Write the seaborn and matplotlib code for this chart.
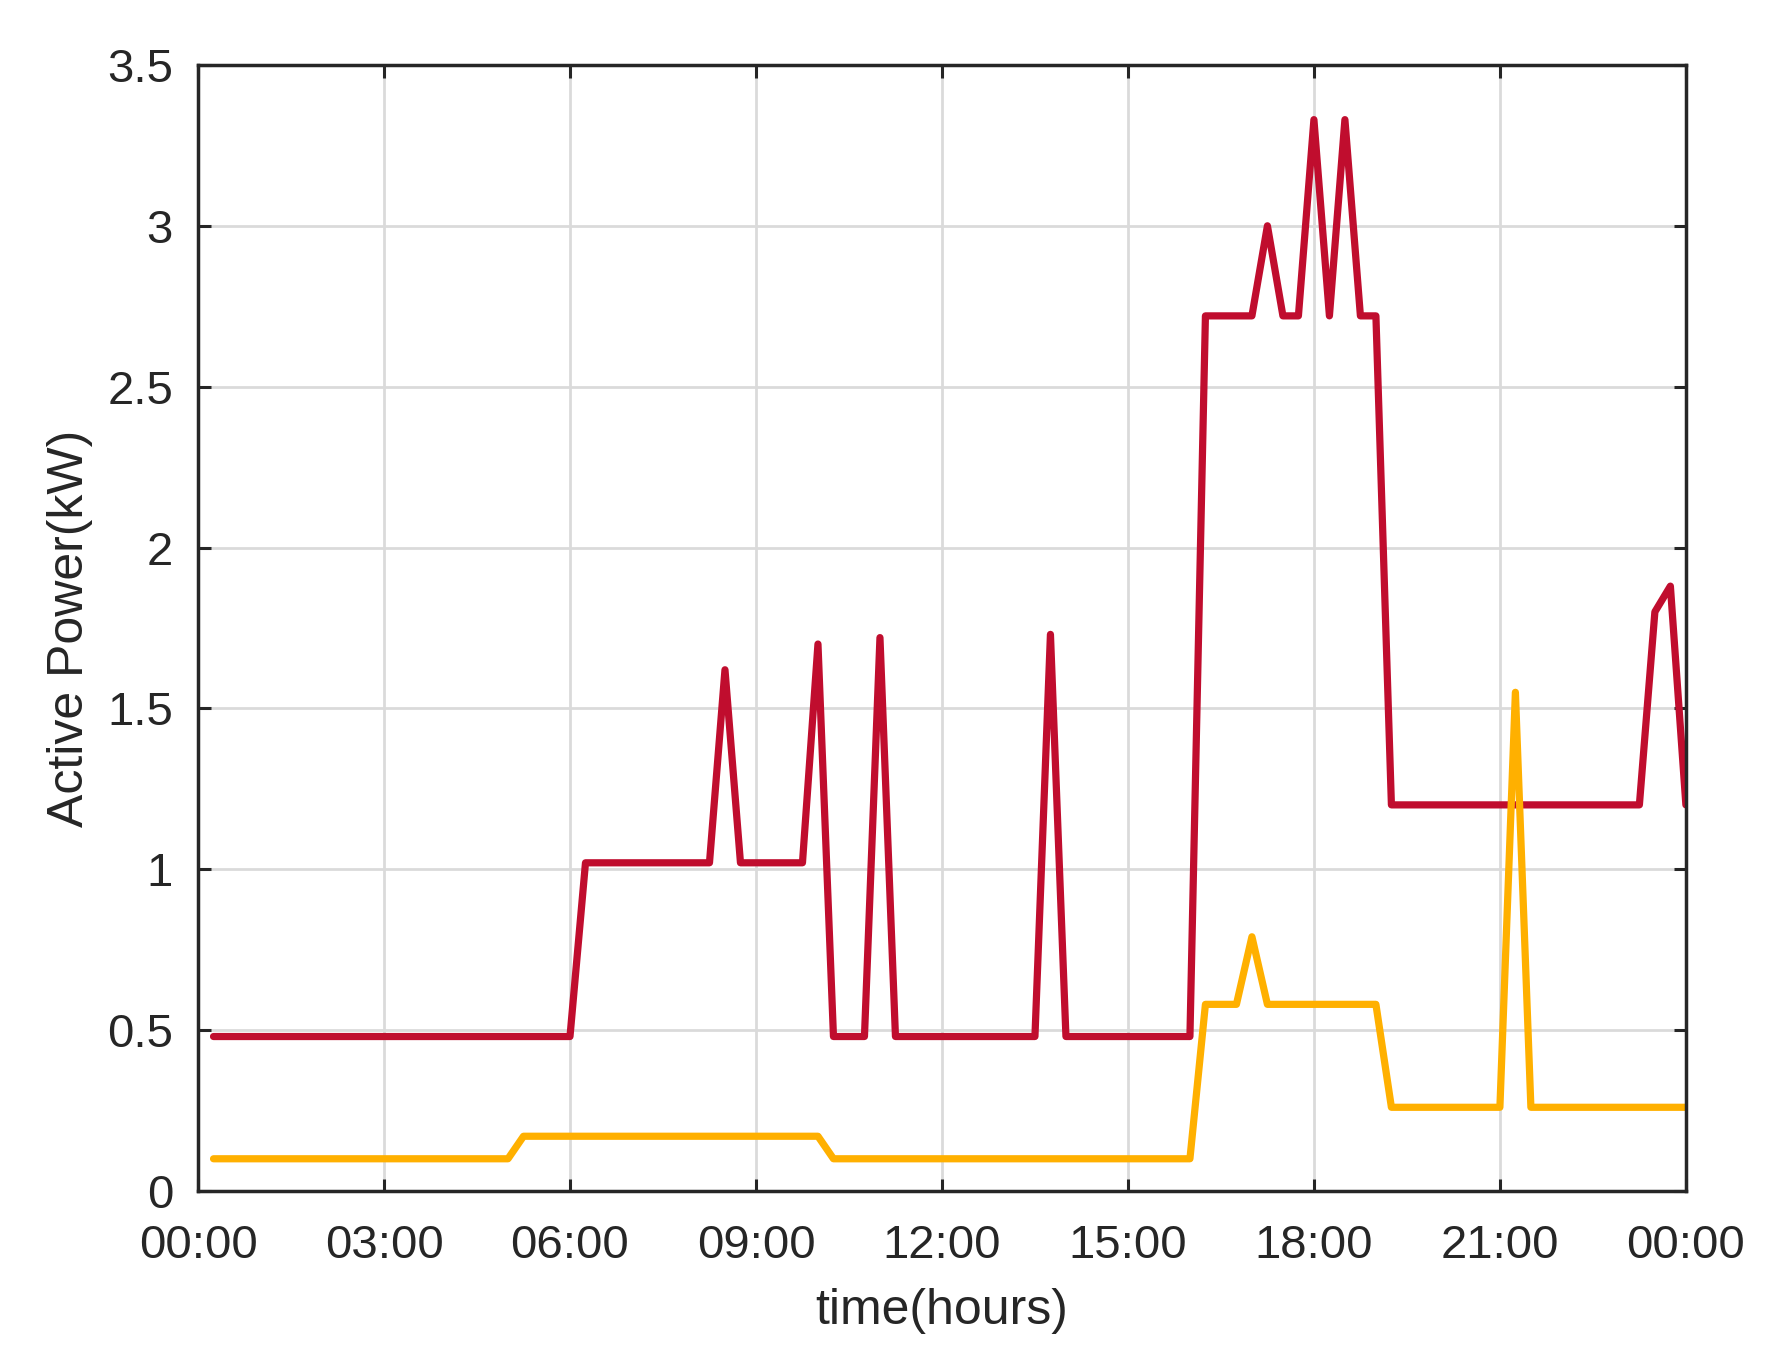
import numpy as np
import pandas as pd
import matplotlib
matplotlib.use("Agg")
import matplotlib.pyplot as plt
import seaborn as sns

# breakpoints of the two load profiles (hours, kW)
upper_hours = [0.25, 6.0, 6.25, 8.25, 8.5, 8.75, 9.75, 10.0, 10.25, 10.75, 11.0, 11.25,
               13.5, 13.75, 14.0, 16.0, 16.25, 17.0, 17.25, 17.5, 17.75, 18.0, 18.25,
               18.5, 18.75, 19.0, 19.25, 23.25, 23.5, 23.75, 24.0]
upper_kw = [0.48, 0.48, 1.02, 1.02, 1.62, 1.02, 1.02, 1.70, 0.48, 0.48, 1.72, 0.48,
            0.48, 1.73, 0.48, 0.48, 2.72, 2.72, 3.00, 2.72, 2.72, 3.33, 2.72,
            3.33, 2.72, 2.72, 1.20, 1.20, 1.80, 1.88, 1.20]

lower_hours = [0.25, 5.0, 5.25, 10.0, 10.25, 16.0, 16.25, 16.75, 17.0, 17.25,
               19.0, 19.25, 21.0, 21.25, 21.5, 24.0]
lower_kw = [0.10, 0.10, 0.17, 0.17, 0.10, 0.10, 0.58, 0.58, 0.79, 0.58,
            0.58, 0.26, 0.26, 1.55, 0.26, 0.26]

tick_hours = [0, 3, 6, 9, 12, 15, 18, 21, 24]
tick_labels = ["00:00", "03:00", "06:00", "09:00", "12:00", "15:00", "18:00", "21:00", "00:00"]
y_ticks = [0, 0.5, 1, 1.5, 2, 2.5, 3, 3.5]
y_labels = ["0", "0.5", "1", "1.5", "2", "2.5", "3", "3.5"]

df = pd.concat([
    pd.DataFrame({"hour": upper_hours, "kw": upper_kw, "series": "upper"}),
    pd.DataFrame({"hour": lower_hours, "kw": lower_kw, "series": "lower"}),
])

sns.set_theme(style="ticks")
plt.rcParams["font.family"] = ["Liberation Sans", "DejaVu Sans"]

fig = plt.figure(figsize=(17.84, 13.7), dpi=100)
ax = fig.add_axes([0.111, 0.1307, 0.834, 0.8219])

sns.lineplot(data=df, x="hour", y="kw", hue="series", estimator=None, sort=False,
             palette={"upper": "#C00D2E", "lower": "#FFB000"}, linewidth=5.2,
             legend=False, ax=ax)

ax.set_xlim(0, 24)
ax.set_ylim(0, 3.5)
ax.set_xticks(tick_hours)
ax.set_xticklabels(tick_labels)
ax.set_yticks(y_ticks)
ax.set_yticklabels(y_labels)
ax.grid(True, color="#DADADA", linewidth=2)
ax.set_axisbelow(True)

for s in ax.spines.values():
    s.set_visible(True)
    s.set_color("#262626")
    s.set_linewidth(2.5)

ax.tick_params(axis="both", which="both", direction="in", top=True, right=True,
               length=9, width=2.2, color="#262626", labelsize=34, labelcolor="#262626")
ax.tick_params(axis="x", pad=24)
ax.tick_params(axis="y", pad=18)

ax.set_xlabel("time(hours)", fontsize=36, color="#262626", labelpad=14)
ax.set_ylabel("Active Power(kW)", fontsize=36, color="#262626", labelpad=10)

fig.savefig("out.png", dpi=100)
